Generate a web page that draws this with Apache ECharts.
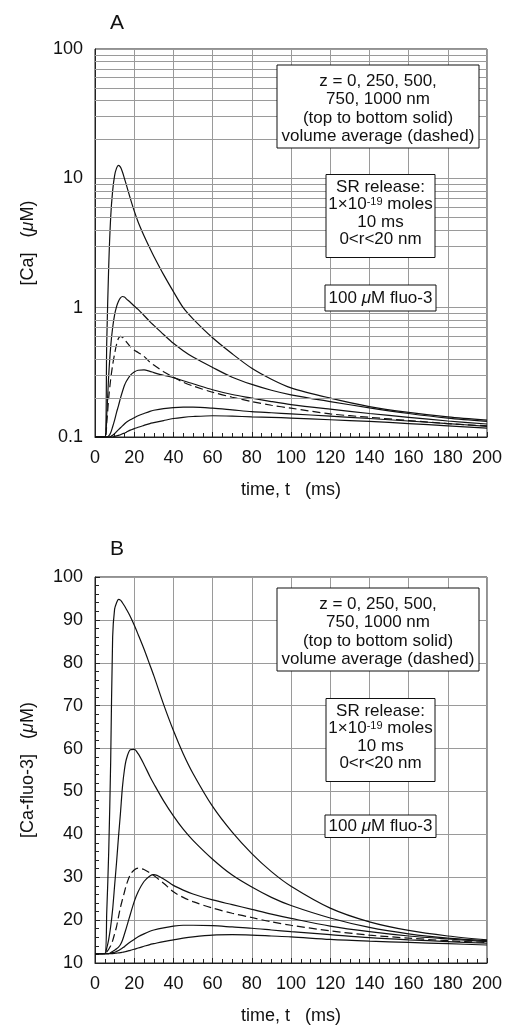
<!DOCTYPE html>
<html><head><meta charset="utf-8">
<script src="https://cdn.jsdelivr.net/npm/echarts@6/dist/echarts.min.js"></script>
<style>html,body{margin:0;padding:0;background:#fff}#c{width:509px;height:1030px}</style>
</head><body><div id="c"></div>
<script>
// ---- data ----
const time = [0,5,6,7,8,9,10,11,12,13,14,15,16,18,20,22,25,28,30,35,40,45,50,60,70,80,90,100,120,140,160,180,200];

// Panel A: [Ca] (uM), log scale
const caZ0    = [0.1,0.1,0.55,2.1,5.0,8.0,10.5,12.0,12.6,12.2,11.2,10.0,8.9,7.0,5.6,4.6,3.6,2.88,2.5,1.8,1.33,1.0,0.82,0.585,0.44,0.34,0.28,0.24,0.2,0.172,0.155,0.143,0.135];
const caZ250  = [0.1,0.1,0.15,0.3,0.5,0.7,0.88,1.02,1.12,1.19,1.22,1.21,1.17,1.1,1.03,0.97,0.87,0.78,0.73,0.62,0.53,0.465,0.415,0.345,0.29,0.255,0.23,0.212,0.188,0.168,0.152,0.14,0.132];
const caZ500  = [0.1,0.1,0.1,0.102,0.108,0.12,0.135,0.155,0.175,0.2,0.225,0.25,0.27,0.3,0.318,0.328,0.33,0.322,0.315,0.3,0.288,0.272,0.258,0.232,0.213,0.2,0.188,0.178,0.164,0.152,0.142,0.133,0.126];
const caAvg   = [0.1,0.1,0.13,0.2,0.28,0.36,0.44,0.52,0.58,0.6,0.59,0.57,0.545,0.5,0.47,0.45,0.42,0.38,0.36,0.32,0.29,0.265,0.248,0.222,0.203,0.188,0.176,0.167,0.151,0.142,0.134,0.127,0.122];
const caZ750  = [0.1,0.1,0.1,0.1,0.101,0.103,0.106,0.11,0.114,0.118,0.122,0.126,0.13,0.136,0.141,0.146,0.152,0.158,0.161,0.166,0.169,0.17,0.17,0.167,0.162,0.157,0.154,0.151,0.145,0.139,0.133,0.127,0.121];
const caZ1000 = [0.1,0.1,0.1,0.1,0.1,0.1,0.101,0.102,0.103,0.104,0.106,0.107,0.109,0.113,0.116,0.119,0.123,0.127,0.129,0.134,0.139,0.142,0.144,0.146,0.145,0.143,0.142,0.14,0.136,0.132,0.127,0.122,0.117];

// Panel B: [Ca-fluo-3] (uM), linear scale
const fZ0    = [12.2,12.2,22,36,57,86,92.5,94,94.8,94.6,94.0,93.3,92.5,90.8,88.8,86.6,83.2,79.5,77,70.3,64.2,58.8,54.2,46.5,40.5,35.5,31.3,27.9,22.8,19.6,17.6,16.3,15.4];
const fZ250  = [12.2,12.2,13.5,15.5,18.5,22.5,28,33.5,39.5,45,51,55,57.5,59.7,59.8,58.8,56.3,53.5,51.8,47.8,44.3,41.2,38.6,34.2,30.5,27.7,25.3,23.4,20.5,18.3,16.8,15.8,15.2];
const fZ500  = [12.2,12.2,12.2,12.2,12.4,12.7,13.0,13.3,13.7,14.3,15.3,16.7,18.2,21.3,24.3,26.6,29,30.3,30.6,29.6,28.1,27,26.1,24.7,23.6,22.5,21.4,20.4,18.6,17.3,16.3,15.6,15.0];
const fAvg   = [12.2,12.2,12.6,13.2,14,15.2,16.8,18.5,20.8,23,24.8,26.5,28.2,30.6,31.7,32.1,31.8,31,30.4,28.6,26.6,25.3,24.3,22.8,21.6,20.6,19.6,18.8,17.5,16.5,15.8,15.2,14.8];
const fZ750  = [12.2,12.2,12.2,12.2,12.3,12.4,12.5,12.7,12.9,13.2,13.5,13.8,14.2,14.9,15.5,16.1,16.8,17.4,17.7,18.2,18.6,18.8,18.8,18.7,18.4,18.1,17.7,17.3,16.6,15.9,15.4,15.0,14.6];
const fZ1000 = [12.2,12.2,12.2,12.2,12.2,12.2,12.25,12.3,12.35,12.4,12.5,12.6,12.7,12.95,13.2,13.5,13.9,14.3,14.5,15.0,15.4,15.8,16.1,16.5,16.6,16.5,16.3,16.1,15.5,15.1,14.8,14.5,14.2];

// ticks
const xTicks = [0,20,40,60,80,100,120,140,160,180,200];
const yTicksA = [0.1,1,10,100];
const yTicksB = [10,20,30,40,50,60,70,80,90,100];
const caMinorGrid = [0.2,0.3,0.4,0.5,0.6,0.7,0.8,0.9,2,3,4,5,6,7,8,9,20,30,40,50,60,70,80,90];

// text
const legendLines = ['z = 0, 250, 500,','750, 1000 nm','(top to bottom solid)','volume average (dashed)'];
const releaseLines = ['SR release:','1×10{sup|-19} moles','10 ms','0<r<20 nm'];
const dyeText = '100 {it|μ}M fluo-3';

// ---- chart ----
const FF = '"Liberation Sans", Arial, Helvetica, sans-serif';
const INK = '#111';
const GRIDC = '#9a9a9a';
const chart = echarts.init(document.getElementById('c'), null, {renderer:'canvas'});

function mk(vals, g, dashed){
  return {
    type:'line', xAxisIndex:g, yAxisIndex:g, z:3,
    data: time.map((t,i)=>[t, vals[i]]),
    showSymbol:false, symbol:'none', smooth:0.3, silent:true,
    lineStyle:{color:INK, width:1.2, type: dashed ? [8,4] : 'solid'}
  };
}

function xAx(g){
  return {
    gridIndex:g, type:'value', min:xTicks[0], max:xTicks[xTicks.length-1], interval:20,
    name:'time, t   (ms)', nameLocation:'middle', nameGap:44,
    nameTextStyle:{fontSize:18, color:INK, fontFamily:FF},
    axisLine:{show:true, onZero:false, lineStyle:{color:'#222', width:1}},
    axisTick:{show:true, inside:true, length:5, lineStyle:{color:'#222'}},
    minorTick:{show:true, splitNumber:4, length:4, lineStyle:{color:'#222'}},
    axisLabel:{fontSize:18, color:INK, fontFamily:FF, margin:12},
    splitLine:{show:true, lineStyle:{color:GRIDC, width:1}}
  };
}

const rich = {
  it:{fontStyle:'italic', fontSize:18, fontFamily:FF, color:INK}
};

const option = {
  animation:false,
  backgroundColor:'#fff',
  textStyle:{fontFamily:FF},
  grid:[
    {left:95, top:49, width:392, height:388, show:true, borderColor:'#222', borderWidth:1, backgroundColor:'transparent'},
    {left:95, top:577, width:392, height:386, show:true, borderColor:'#222', borderWidth:1, backgroundColor:'transparent'}
  ],
  xAxis:[xAx(0), xAx(1)],
  yAxis:[
    {gridIndex:0, type:'log', logBase:10, min:yTicksA[0], max:yTicksA[yTicksA.length-1],
     name:'[Ca]   ({it|μ}M)', nameLocation:'middle', nameGap:58,
     nameTextStyle:{fontSize:18, color:INK, fontFamily:FF, rich:rich},
     axisLine:{show:true, onZero:false, lineStyle:{color:'#222'}},
     axisTick:{show:false},
     axisLabel:{fontSize:18, color:INK, fontFamily:FF, margin:12,
       formatter:(v)=>String(Number(Number(v).toPrecision(2)))},
     splitLine:{show:true, lineStyle:{color:GRIDC, width:1}}
    },
    {gridIndex:1, type:'value', min:yTicksB[0], max:yTicksB[yTicksB.length-1], interval:10,
     name:'[Ca-fluo-3]   ({it|μ}M)', nameLocation:'middle', nameGap:58,
     nameTextStyle:{fontSize:18, color:INK, fontFamily:FF, rich:rich},
     axisLine:{show:true, onZero:false, lineStyle:{color:'#222'}},
     axisTick:{show:true, inside:true, length:5, lineStyle:{color:'#222'}},
     minorTick:{show:true, splitNumber:5, length:4, lineStyle:{color:'#222'}},
     axisLabel:{fontSize:18, color:INK, fontFamily:FF, margin:12},
     splitLine:{show:true, lineStyle:{color:GRIDC, width:1}}
    }
  ],
  series:[
    {type:'line', xAxisIndex:0, yAxisIndex:0, data:[[0,0.1]], showSymbol:false, symbol:'none', z:1, silent:true,
     lineStyle:{opacity:0},
     markLine:{silent:true, symbol:['none','none'], label:{show:false}, animation:false,
       lineStyle:{color:GRIDC, type:'solid', width:1}, emphasis:{disabled:true},
       data: caMinorGrid.map(v=>({yAxis:v}))}
    },
    mk(caZ0,0), mk(caZ250,0), mk(caZ500,0), mk(caAvg,0,true), mk(caZ750,0), mk(caZ1000,0),
    mk(fZ0,1), mk(fZ250,1), mk(fZ500,1), mk(fAvg,1,true), mk(fZ750,1), mk(fZ1000,1)
  ],
  graphic: []
};

function box(x,y,w,h){
  return {type:'rect', z:50, shape:{x:x,y:y,width:w,height:h}, style:{fill:'#fff', stroke:'#111', lineWidth:1}, silent:true};
}
function txt(cx,cy,s,size){
  return {type:'text', z:51, x:cx, y:cy, silent:true,
    style:{text:s, fill:INK, font:(size||17)+'px '+FF, align:'center', verticalAlign:'middle',
      rich:{sup:{fontSize:11, fontFamily:FF, fill:INK, verticalAlign:'top', lineHeight:17, padding:[0,0,9,0]},
            it:{fontStyle:'italic', fontSize:17, fontFamily:FF, fill:INK}}}};
}
function panelBoxes(b1y, b2y, b3y, b3h){
  const g = [];
  g.push(box(277,b1y,202,83));
  legendLines.forEach((s,i)=>g.push(txt(378, b1y+16.5+18.3*i, s)));
  g.push(box(326,b2y,109,83));
  releaseLines.forEach((s,i)=>g.push(txt(380.5, b2y+13+17.3*i, s)));
  g.push(box(325,b3y,111,b3h));
  g.push(txt(380.5, b3y+b3h/2, dyeText));
  return g;
}
option.graphic = [
  ...panelBoxes(65,174.5,285,26),
  ...panelBoxes(588,698.5,815,22.5),
  {type:'text', x:117, y:23, silent:true, style:{text:'A', font:'21px '+FF, fill:INK, align:'center', verticalAlign:'middle'}},
  {type:'text', x:117, y:549, silent:true, style:{text:'B', font:'21px '+FF, fill:INK, align:'center', verticalAlign:'middle'}}
];

chart.setOption(option);
</script>
</body></html>
